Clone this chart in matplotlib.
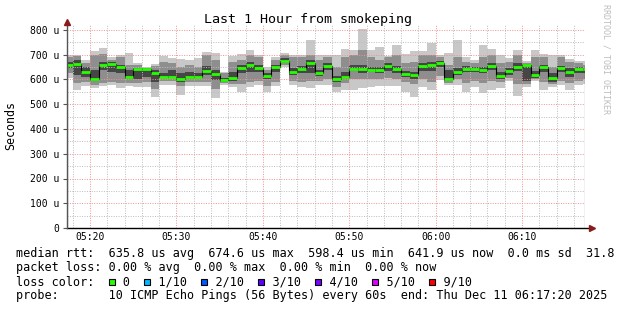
import numpy as np
import matplotlib
matplotlib.use('Agg')
import matplotlib.pyplot as plt
from matplotlib.patches import Rectangle

# ping data per 1 minute step (microseconds), 05:17:20 .. 06:17:20
median = [658, 663, 630, 604, 659, 662, 650, 612, 642, 642,
          628, 612, 612, 601, 612, 612, 636, 623, 598, 605,
          647, 658, 648, 615, 650, 675, 630, 642, 666, 628,
          655, 601, 612, 643, 643, 639, 639, 655, 643, 623,
          617, 655, 659, 666, 601, 630, 643, 643, 639, 656,
          616, 636, 650, 658, 619, 650, 605, 646, 632, 642, 642]
ping_hi = [700, 700, 679, 717, 729, 689, 700, 709, 668, 652,
           663, 695, 686, 683, 677, 686, 713, 709, 632, 693,
           703, 721, 701, 652, 690, 709, 701, 701, 760, 701,
           700, 700, 722, 719, 804, 719, 733, 695, 740, 702,
           715, 715, 749, 700, 709, 760, 690, 677, 740, 722,
           700, 686, 719, 673, 719, 703, 700, 700, 683, 675, 675]
ping_lo = [605, 558, 574, 565, 574, 577, 565, 574, 570, 568,
           528, 578, 578, 536, 572, 572, 574, 524, 578, 568,
           549, 569, 578, 549, 572, 650, 578, 568, 565, 578,
           578, 549, 558, 558, 565, 568, 572, 574, 574, 548,
           528, 568, 558, 599, 578, 578, 549, 568, 545, 558,
           565, 595, 532, 569, 592, 558, 568, 578, 556, 578, 580]
q_hi = [690, 695, 665, 700, 705, 680, 690, 660, 660, 648,
        655, 670, 665, 650, 660, 650, 700, 680, 625, 670,
        680, 700, 690, 640, 680, 700, 690, 690, 700, 680,
        690, 650, 690, 700, 720, 690, 680, 690, 700, 665,
        670, 700, 700, 690, 660, 690, 670, 665, 690, 700,
        665, 670, 700, 668, 690, 690, 650, 690, 670, 665, 660]
q_lo = [625, 585, 590, 578, 585, 590, 585, 585, 585, 590,
        560, 595, 592, 575, 590, 590, 590, 560, 585, 580,
        580, 590, 595, 575, 590, 660, 595, 590, 595, 595,
        600, 570, 585, 600, 600, 600, 600, 605, 600, 590,
        580, 600, 590, 615, 585, 600, 585, 595, 585, 595,
        590, 605, 580, 580, 600, 590, 580, 595, 585, 595, 600]
core_hi = [670, 680, 650, 640, 672, 670, 660, 640, 645, 645,
           640, 625, 640, 625, 630, 625, 655, 640, 605, 630,
           660, 670, 660, 625, 660, 685, 645, 655, 680, 640,
           665, 615, 630, 660, 660, 650, 650, 665, 655, 635,
           630, 665, 670, 675, 640, 645, 655, 650, 650, 668,
           630, 648, 665, 662, 635, 660, 625, 655, 645, 650, 648]
core_lo = [645, 620, 612, 595, 640, 630, 625, 600, 600, 610,
           590, 605, 605, 590, 600, 605, 620, 598, 590, 592,
           625, 630, 630, 600, 630, 668, 620, 625, 628, 615,
           640, 590, 600, 635, 628, 630, 628, 635, 628, 610,
           600, 635, 635, 650, 592, 620, 630, 630, 625, 640,
           600, 620, 635, 595, 605, 630, 590, 630, 610, 625, 628]

# minutes after 05:00
t_start = 17 + 20 / 60
t_end = 77 + 20 / 60
edges = np.concatenate([[t_start], np.arange(18, 78), [t_end]])
xticks = [20, 30, 40, 50, 60, 70]
xlabels = ['05:20', '05:30', '05:40', '05:50', '06:00', '06:10']
yticks = [0, 100, 200, 300, 400, 500, 600, 700, 800]
ylabels = ['0', '100 u', '200 u', '300 u', '400 u', '500 u', '600 u', '700 u', '800 u']

loss_labels = ['0', '1/10', '2/10', '3/10', '4/10', '5/10', '9/10']
loss_colors = ['#26ff00', '#00b8ff', '#0059ff', '#5e00ff', '#7e00ff', '#dd00ff', '#ff0000']

mono = 'DejaVu Sans Mono'
W, H = 617, 310
fig = plt.figure(figsize=(W / 100, H / 100), dpi=100)
x0, x1, y0, y1 = 67, 585.4, 228, 24
ax = fig.add_axes([x0 / W, (H - y0) / H, (x1 - x0) / W, (y0 - y1) / H])
ax.set_xlim(t_start, t_end)
ax.set_ylim(0, 800 * (y0 - y1) / (228 - 30))

# smoke
ax.stairs(ping_hi, edges, baseline=ping_lo, fill=True, color='#c8c8c8', lw=0, zorder=1)
ax.stairs(q_hi, edges, baseline=q_lo, fill=True, color='#8e8e8e', lw=0, zorder=1.1)
ax.stairs(core_hi, edges, baseline=core_lo, fill=True, color='#464646', lw=0, zorder=1.2)

# grid on top of smoke
minor_kw = dict(color='#bcbcbc', lw=0.7, ls=(0, (1, 1.5)), zorder=2)
major_kw = dict(color='#f29090', lw=0.7, ls=(0, (1, 1.5)), zorder=2.1)
for v in np.arange(50, 801, 100):
    ax.axhline(v, **minor_kw)
for v in yticks[1:]:
    ax.axhline(v, **major_kw)
for m in np.arange(18, 78, 2):
    if m % 10:
        ax.axvline(m, **minor_kw)
for m in xticks:
    ax.axvline(m, **major_kw)

# median line
ax.stairs(median, edges, color='black', lw=0.8, zorder=3)
ax.hlines(median, edges[:-1], edges[1:], color=loss_colors[0], lw=2.0, zorder=4)

for s in ax.spines.values():
    s.set_visible(False)
ax.plot([0, 1.013], [0, 0], transform=ax.transAxes, color='black', lw=1, clip_on=False, zorder=5)
ax.plot([0, 0], [0, 1.01], transform=ax.transAxes, color='#555555', lw=1, clip_on=False, zorder=5)
ax.plot([1.013], [0], marker='>', ms=4, color='#8b1a1a', transform=ax.transAxes, clip_on=False, zorder=6)
ax.plot([0], [1.01], marker='^', ms=4, color='#8b1a1a', transform=ax.transAxes, clip_on=False, zorder=6)

ax.set_yticks(yticks)
ax.set_yticklabels(ylabels, family=mono, fontsize=7)
ax.set_xticks(xticks)
ax.set_xticklabels(xlabels, family=mono, fontsize=7)
ax.tick_params(axis='y', length=3, width=0.8, color='#555555', pad=2.5)
ax.tick_params(axis='x', length=0, pad=3)

fig.text(308.5 / W, 1 - 20 / H, 'Last 1 Hour from smokeping', family=mono, fontsize=9.6,
         ha='center', va='center')
fig.text(11 / W, 1 - 126 / H, 'Seconds', family=mono, fontsize=8.4, rotation=90,
         ha='center', va='center')
fig.text(606 / W, 1 - 59 / H, 'RRDTOOL / TOBI OETIKER', family=mono, fontsize=6, rotation=270,
         ha='center', va='center', color='#bdbdbd')

# legend block
fs = 8.5
cw = 0.602 * fs * 100 / 72
lx = 16
lines = [
    'median rtt:  635.8 us avg  674.6 us max  598.4 us min  641.9 us now  0.0 ms sd  31.8',
    'packet loss: 0.00 % avg  0.00 % max  0.00 % min  0.00 % now',
    '',
    'probe:       10 ICMP Echo Pings (56 Bytes) every 60s  end: Thu Dec 11 06:17:20 2025',
]
line_y = [254, 268, 282, 296]
for txt, yy in zip(lines, line_y):
    if txt:
        fig.text(lx / W, 1 - yy / H, txt, family=mono, fontsize=fs, ha='left', va='center')

loss_line = 'loss color:  '
box_cols = []
for lab in loss_labels:
    box_cols.append(len(loss_line))
    loss_line += '  ' + lab + '  '
loss_line = loss_line.rstrip()
fig.text(lx / W, 1 - line_y[2] / H, loss_line, family=mono, fontsize=fs, ha='left', va='center')
for col, c in zip(box_cols, loss_colors):
    bx = lx + col * cw + 0.5
    fig.add_artist(Rectangle((bx / W, 1 - (line_y[2] + 3) / H), 6 / W, 6 / H,
                             transform=fig.transFigure, facecolor=c, edgecolor='black', lw=0.8))

fig.savefig('out.png', dpi=100, facecolor='white')
